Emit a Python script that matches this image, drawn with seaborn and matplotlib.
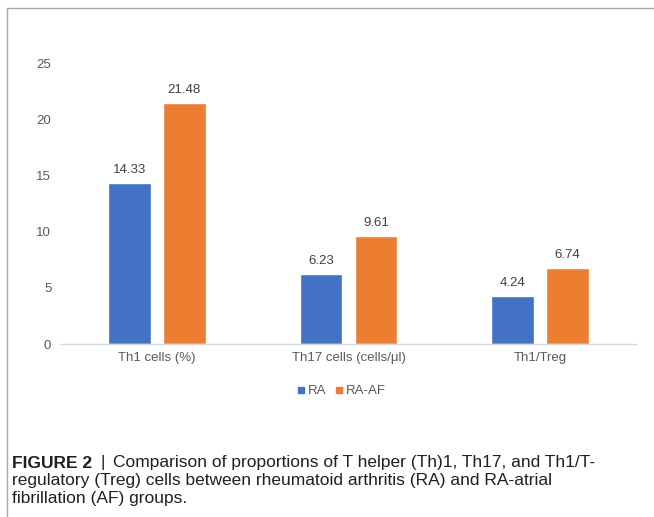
import pandas as pd
import numpy as np
import matplotlib.pyplot as plt
import seaborn as sns
from matplotlib.lines import Line2D

# values
categories = ['Th1 cells (%)', 'Th17 cells (cells/\u03bcl)', 'Th1/Treg']
groups = ['RA', 'RA-AF']
ra_values = [14.33, 6.23, 4.24]
ra_af_values = [21.48, 9.61, 6.74]
yticks = [0, 5, 10, 15, 20, 25]

df = pd.DataFrame({
    'category': categories * 2,
    'group': [groups[0]] * 3 + [groups[1]] * 3,
    'value': ra_values + ra_af_values,
})

sns.set_style('white')
plt.rcParams['font.family'] = ['Liberation Sans', 'DejaVu Sans']

fig = plt.figure(figsize=(6.54, 5.17), dpi=100)
ax = fig.add_axes([0.0933, 0.3346, 0.8792, 0.5435])

palette = {'RA': '#4472C4', 'RA-AF': '#ED7D31'}
sns.barplot(data=df, x='category', y='value', hue='group', palette=palette,
            width=0.573, gap=0.22, saturation=1, ax=ax, legend=False)

# value labels above bars
for cont in ax.containers:
    ax.bar_label(cont, fmt='%.2f', padding=5, fontsize=9.5, color='#404040')

ax.set_ylim(0, 25)
ax.set_xlim(-0.5, 2.5)
ax.set_yticks(yticks)
ax.set_xlabel('')
ax.set_ylabel('')
ax.tick_params(axis='both', length=0, labelsize=9.5, colors='#595959')
ax.tick_params(axis='y', pad=7)
ax.tick_params(axis='x', pad=6)
for s in ['top', 'right', 'left']:
    ax.spines[s].set_visible(False)
ax.spines['bottom'].set_color('#d9d9d9')
ax.spines['bottom'].set_linewidth(1)

# legend
handles = [Line2D([], [], marker='s', linestyle='', markersize=5,
                  color=palette[g]) for g in groups]
fig.legend(handles, groups, loc='center', bbox_to_anchor=(0.522, 0.243),
           ncol=2, frameon=False, fontsize=9.5, handlelength=0.6,
           handletextpad=0.25, columnspacing=0.6, labelcolor='#595959')

# frame lines
fig.add_artist(Line2D([7 / 654, 1], [1 - 8 / 517, 1 - 8 / 517],
                      color='#a6a6a6', lw=1))
fig.add_artist(Line2D([7 / 654, 7 / 654], [0, 1 - 8 / 517],
                      color='#a6a6a6', lw=1))

# caption
cap_kw = dict(fontsize=12.5, color='#231f20', va='center')
fig.text(12 / 654, 1 - 463 / 517, 'FIGURE 2', fontweight='bold', **cap_kw)
fig.text(101 / 654, 1 - 463 / 517, '|', fontweight='light', **cap_kw)
fig.text(113 / 654, 1 - 463 / 517,
         'Comparison of proportions of T helper (Th)1, Th17, and Th1/T-',
         **cap_kw)
fig.text(12 / 654, 1 - 481 / 517,
         'regulatory (Treg) cells between rheumatoid arthritis (RA) and RA-atrial',
         **cap_kw)
fig.text(12 / 654, 1 - 499 / 517, 'fibrillation (AF) groups.', **cap_kw)

fig.savefig('out.png', dpi=100)
